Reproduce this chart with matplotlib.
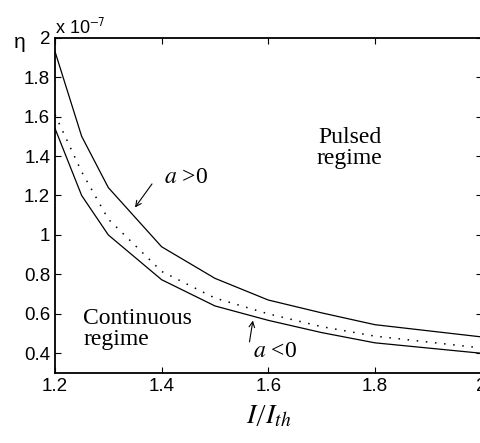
import matplotlib
matplotlib.use("Agg")
import matplotlib.pyplot as plt

plt.rcParams['mathtext.fontset'] = 'stix'
plt.rcParams['font.family'] = ['Liberation Sans', 'DejaVu Sans']

current = [1.2, 1.25, 1.3, 1.4, 1.5, 1.6, 1.7, 1.8, 2.0]
eta_pos = [1.93, 1.50, 1.24, 0.94, 0.78, 0.67, 0.605, 0.545, 0.483]
eta_mid = [1.61, 1.32, 1.08, 0.815, 0.68, 0.60, 0.535, 0.487, 0.427]
eta_neg = [1.54, 1.20, 1.00, 0.773, 0.64, 0.567, 0.505, 0.453, 0.40]

xticks = [1.2, 1.4, 1.6, 1.8, 2.0]
xticklabels = ['1.2', '1.4', '1.6', '1.8', '2']
yticks = [0.4, 0.6, 0.8, 1.0, 1.2, 1.4, 1.6, 1.8, 2.0]
yticklabels = ['0.4', '0.6', '0.8', '1', '1.2', '1.4', '1.6', '1.8', '2']

fig = plt.figure(figsize=(4.8, 4.43), dpi=100)
ax = fig.add_axes([55 / 480, 70 / 443, 426.5 / 480, 335.3 / 443])

ax.plot(current, eta_pos, color='black', lw=0.9)
ax.plot(current, eta_neg, color='black', lw=0.9)
ax.plot(current, eta_mid, color='black', lw=1.1, linestyle=(0, (1, 5)))

ax.set_xlim(1.2, 2.0)
ax.set_ylim(0.3, 2.0)
ax.set_xticks(xticks)
ax.set_xticklabels(xticklabels)
ax.set_yticks(yticks)
ax.set_yticklabels(yticklabels)
ax.tick_params(direction='in', top=True, right=True, labelsize=13.5, length=4, width=0.8)
for s in ax.spines.values():
    s.set_linewidth(1.3)

serif = ['Liberation Serif', 'DejaVu Serif']
ax.text(1.753, 1.44, 'Pulsed\nregime', family=serif, fontsize=17,
        ha='center', va='center', linespacing=1.0)
ax.text(1.253, 0.525, 'Continuous\nregime', family=serif, fontsize=17,
        ha='left', va='center', linespacing=1.0)

ax.annotate('', xy=(1.347, 1.128), xytext=(1.385, 1.27),
            arrowprops=dict(arrowstyle='->', color='black', lw=0.8))
ax.text(1.404, 1.29, r'$a$ >0', family=serif, fontsize=17, ha='left', va='center')

ax.annotate('', xy=(1.572, 0.58), xytext=(1.564, 0.444),
            arrowprops=dict(arrowstyle='->', color='black', lw=0.8))
ax.text(1.572, 0.41, r'$a$ <0', family=serif, fontsize=17, ha='left', va='center')

fig.text(55 / 480, 1 - 27 / 443, r'x 10$^{\mathsf{-7}}$', fontsize=13, ha='left', va='center')
fig.text(14 / 480, 1 - 42 / 443, 'η', fontsize=15, ha='left', va='center')

ax.set_xlabel(r'$I\left/I_{th}\right.$', fontsize=20, labelpad=6)

fig.savefig('out.png', dpi=100)
